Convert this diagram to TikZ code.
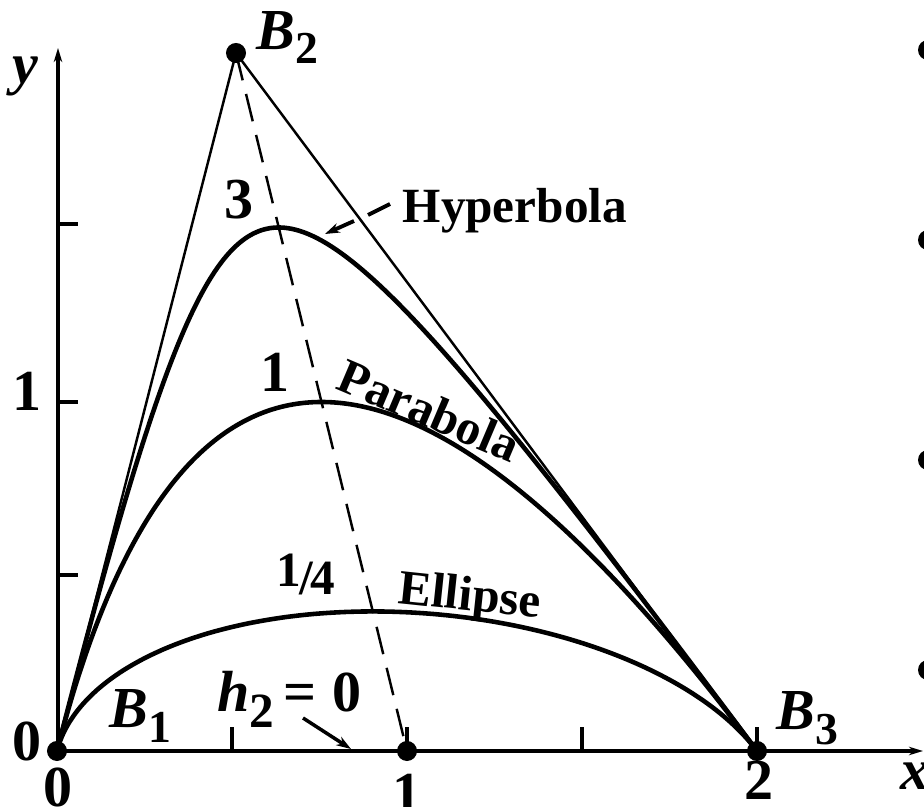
\documentclass[tikz,border=0pt]{standalone}
\usepackage{fontspec}
\setmainfont{Liberation Serif}
\usetikzlibrary{arrows.meta}
\newcommand{\ratcurve}[1]{plot[domain=0:1,samples=160,variable=\t]
 ({((1-\t)^2*57+2*\t*(1-\t)*#1*236+\t^2*757)/((1-\t)^2+2*\t*(1-\t)*#1+\t^2)},
  {((1-\t)^2*751+2*\t*(1-\t)*#1*53+\t^2*751)/((1-\t)^2+2*\t*(1-\t)*#1+\t^2)})}
\begin{document}
\begin{tikzpicture}[x=0.01cm,y=-0.01cm,
  curve/.style={line width=1.3pt,line join=round},
  thinline/.style={line width=0.7pt},
  axisline/.style={line width=1.2pt},
  dot/.style={circle,fill=black,inner sep=0pt,minimum size=0.2cm},
  lbl/.style={font=\fontsize{14}{16}\selectfont\bfseries,inner sep=0pt},
  num/.style={font=\fontsize{16.5}{18}\selectfont\bfseries,inner sep=0pt},
  ital/.style={font=\fontsize{16.5}{18}\selectfont\bfseries\itshape,inner sep=0pt},
  tip/.style={-{Stealth[length=4.2pt,width=2.8pt]}},
]
\useasboundingbox (0,0) rectangle (924,807);
\clip (0,0) rectangle (924,807);

% axes
\coordinate (O) at (58,751);
\coordinate (ytop) at (58,48);
\coordinate (xend) at (923,751);
\draw[axisline,-{Stealth[length=4pt,width=2.4pt]}] (O) -- (ytop);
\draw[axisline,-{Stealth[length=4pt,width=2.4pt]}] (O) -- (xend);

% ticks
\foreach \xx in {232,407,582,757} \draw[axisline] (\xx,751) -- (\xx,727);
\foreach \yy in {575,402,224} \draw[axisline] (58,\yy) -- (78,\yy);

% control points
\node[dot] (B1) at (57,751) {};
\node[dot] (B2) at (236,53) {};
\node[dot] (B3) at (757,751) {};
\node[dot] (P1) at (407,751) {};

% control polygon and dashed line
\draw[thinline] (B1.center) -- (B2.center) -- (B3.center);
\draw[thinline,dash pattern=on 8pt off 4pt] (B2.center) -- (P1.center);

% conics
\draw[curve] \ratcurve{3};
\draw[curve] \ratcurve{1};
\draw[curve] \ratcurve{0.25};

% leader arrows
\coordinate (hA) at (390,204);
\coordinate (hB) at (368,215);
\coordinate (hC) at (354,221);
\coordinate (hD) at (325,234);
\draw[line width=1.1pt] (hA) -- (hB);
\draw[line width=1.1pt,tip] (hC) -- (hD);
\coordinate (zA) at (303,718);
\coordinate (zB) at (351,749);
\draw[line width=1pt,tip] (zA) -- (zB);

% labels
\node[lbl,anchor=base west] (thyp) at (402,223) {Hyperbola};
\node[lbl,anchor=base west,rotate=-23] (tpar) at (334,388) {Parabola};
\node[lbl,anchor=base west,rotate=-6] (tell) at (397,603) {Ellipse};
\node[lbl,anchor=base west] (tq) at (276,595) {\raisebox{2.4pt}{1}\kern-0.6pt/\kern-0.8pt4};
\node[num] (t3) at (239,200) {3};
\node[num] (t1) at (275,372) {1};
\node[num] (ty1) at (27,391) {1};
\node[num] (ty0) at (27,741) {0};
\node[num] (tx0) at (58,787) {0};
\node[num] (tx1) at (407,793) {1};
\node[num] (tx2) at (759,780) {2};
\node[ital,anchor=base] (ty) at (25,84) {y};
\node[ital,anchor=base west] (tx) at (900,790) {x};
\node[ital,anchor=base west] (lB2) at (256,50) {B\raisebox{-3.8pt}{\fontsize{13}{14}\selectfont\upshape 2}};
\node[ital,anchor=base west] (lB1) at (109,728) {B\raisebox{-4.2pt}{\fontsize{13}{14}\selectfont\upshape 1}};
\node[ital,anchor=base west] (lB3) at (776,730) {B\raisebox{-4.2pt}{\fontsize{13}{14}\selectfont\upshape 3}};
\node[ital,anchor=base west] (lh) at (217,712) {h\raisebox{-4.5pt}{\fontsize{14}{15}\selectfont\upshape 2}\hspace{2.5pt}{\upshape=}\hspace{4.5pt}{\upshape 0}};

% partially visible bullets at the right edge
\node[dot] (bu1) at (928,50) {};
\node[dot] (bu2) at (928,240) {};
\node[dot] (bu3) at (928,460) {};
\node[dot] (bu4) at (928,670) {};
\end{tikzpicture}
\end{document}
